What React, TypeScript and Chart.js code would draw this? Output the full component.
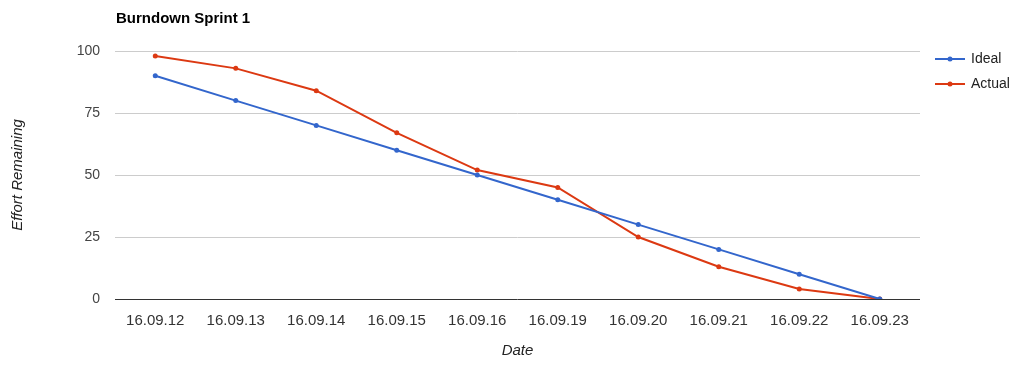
import React, { useEffect, useRef } from "react";
import { Chart, registerables } from "chart.js";

Chart.register(...registerables);

const chartTitle = "Burndown Sprint 1";
const dates = ["16.09.12", "16.09.13", "16.09.14", "16.09.15", "16.09.16", "16.09.19", "16.09.20", "16.09.21", "16.09.22", "16.09.23"];
const ideal = [90, 80, 70, 60, 50, 40, 30, 20, 10, 0];
const actual = [98, 93, 84, 67, 52, 45, 25, 13, 4, 0];
const yTicks = [0, 25, 50, 75, 100];

const FONT = "Arial, 'Liberation Sans', sans-serif";
const BLUE = "#3366cc";
const RED = "#dc3912";

const overlayPlugin = {
  id: "overlay",
  afterDraw(chart: any) {
    const ctx = chart.ctx;
    const area = chart.chartArea;
    ctx.save();
    ctx.font = `bold 15px ${FONT}`;
    ctx.fillStyle = "#000";
    ctx.textAlign = "left";
    ctx.textBaseline = "middle";
    ctx.fillText(chartTitle, area.left + 1, 19);
    const lx = area.right + 15;
    chart.data.datasets.forEach((ds: any, i: number) => {
      const y = 59 + i * 25;
      ctx.strokeStyle = ds.borderColor;
      ctx.lineWidth = 2;
      ctx.beginPath();
      ctx.moveTo(lx, y);
      ctx.lineTo(lx + 30, y);
      ctx.stroke();
      ctx.fillStyle = ds.borderColor;
      ctx.beginPath();
      ctx.arc(lx + 15, y, 2.5, 0, Math.PI * 2);
      ctx.fill();
      ctx.font = `14px ${FONT}`;
      ctx.fillStyle = "#222";
      ctx.textAlign = "left";
      ctx.textBaseline = "middle";
      ctx.fillText(ds.label, lx + 36, y);
    });
    ctx.restore();
  },
};

export default function App() {
  const ref = useRef<HTMLCanvasElement>(null);
  useEffect(() => {
    if (!ref.current) return;
    const chart = new Chart(ref.current, {
      type: "line",
      data: {
        labels: dates,
        datasets: [
          { label: "Ideal", data: ideal, borderColor: BLUE, backgroundColor: BLUE, pointBackgroundColor: BLUE, borderWidth: 2, pointRadius: 2.5, pointBorderWidth: 0, tension: 0 },
          { label: "Actual", data: actual, borderColor: RED, backgroundColor: RED, pointBackgroundColor: RED, borderWidth: 2, pointRadius: 2.5, pointBorderWidth: 0, tension: 0 },
        ],
      },
      options: {
        animation: false,
        responsive: false,
        maintainAspectRatio: false,
        layout: { padding: { top: 51, right: 100, left: 0, bottom: 0 } },
        plugins: { legend: { display: false }, title: { display: false }, tooltip: { enabled: false } },
        scales: {
          x: {
            offset: true,
            grid: { display: false, drawTicks: false },
            border: { display: false },
            ticks: { color: "#333", font: { family: FONT, size: 15 }, padding: 13, maxRotation: 0, autoSkip: false },
            title: { display: true, text: "Date", color: "#222", font: { family: FONT, size: 15, style: "italic" }, padding: { top: 0, bottom: 8 } },
            afterFit: (s: any) => { s.height = 69; },
          },
          y: {
            min: 0,
            max: 100,
            afterBuildTicks: (s: any) => { s.ticks = yTicks.map((v) => ({ value: v })); },
            grid: { drawTicks: false, color: (c: any) => (c.tick && c.tick.value === 0 ? "#333" : "#cccccc"), lineWidth: 1 },
            border: { display: false },
            ticks: { color: "#444", font: { family: FONT, size: 14 }, padding: 15 },
            title: { display: true, text: "Effort Remaining", color: "#222", font: { family: FONT, size: 15, style: "italic" }, padding: { top: 9, bottom: 0 } },
            afterFit: (s: any) => { s.width = 115; },
          },
        },
      },
      plugins: [overlayPlugin],
    });
    return () => chart.destroy();
  }, []);
  return (
    <div style={{ position: "fixed", left: 0, top: 0, width: 1020, height: 368, background: "#fff" }}>
      <canvas ref={ref} width={1020} height={368} style={{ width: 1020, height: 368 }} />
    </div>
  );
}
